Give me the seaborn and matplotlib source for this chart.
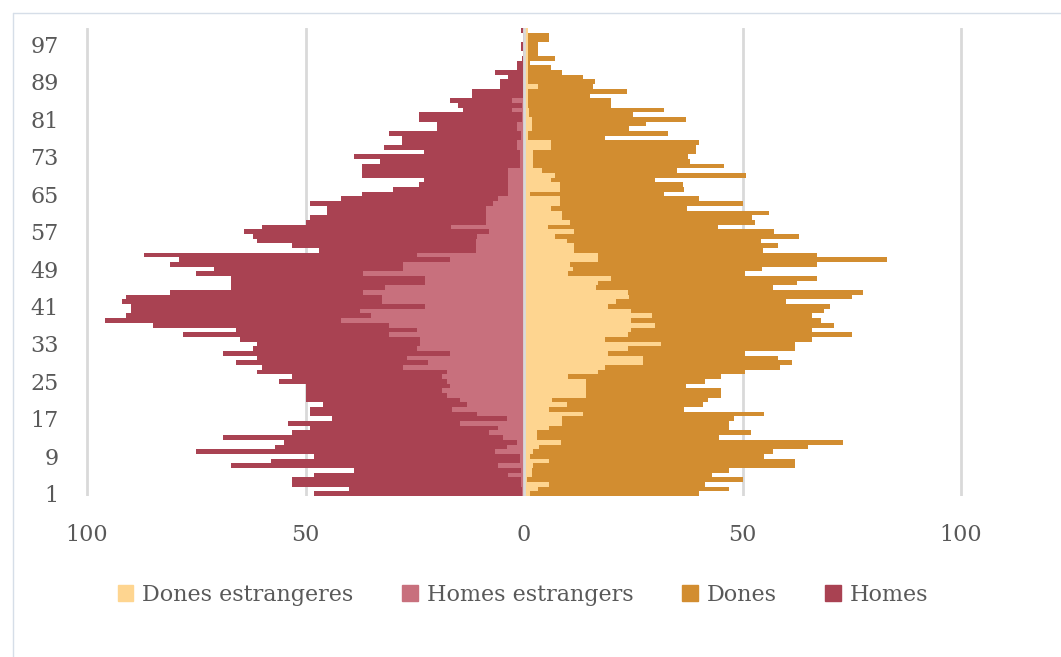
import matplotlib
matplotlib.use('Agg')
import matplotlib.pyplot as plt
import seaborn as sns
import numpy as np
from matplotlib.patches import Patch
from matplotlib.lines import Line2D

# === dades (edat 1..100) ===
ages = list(range(1, 101))

homes = [48, 40, 53, 53, 48, 39, 67, 58, 48, 75,
         57, 55, 69, 53, 49, 54, 44, 49, 49, 46,
         50, 50, 50, 50, 56, 53, 61, 60, 66, 61,
         69, 62, 61, 65, 78, 66, 85, 96, 91, 90,
         90, 92, 91, 81, 67, 67, 67, 75, 71, 81,
         79, 87, 47, 53, 61, 62, 64, 60, 50, 49,
         45, 45, 49, 42, 37, 30, 24, 23, 37, 37,
         37, 33, 39, 23, 32, 28, 28, 31, 20, 20,
         24, 24, 14, 15, 17, 12, 12, 5.5, 5.5, 3.7,
         6.6, 1.7, 1.7, 0.5, 0.3, 0.7, 0.7, 0.3, 0.2, 0.7]

homes_estr = [0.5, 0.5, 0.7, 0.7, 3.7, 0.7, 6, 1, 1, 6.6,
              4, 1.6, 4.8, 8, 6, 14.6, 3.9, 10.8, 16.5, 13.1,
              14.6, 17.7, 18.8, 17, 17.7, 18.8, 17.7, 27.7, 22, 26.8,
              17, 24.6, 23.8, 23.8, 31, 24.6, 31, 42, 35, 37.5,
              22.6, 32.6, 32.6, 36.8, 31.8, 22.6, 22.6, 36.8, 27.7, 27.7,
              17, 24.6, 11, 11, 11, 10.8, 8, 16.7, 8.7, 8.7,
              8.7, 8.7, 7, 6, 3.7, 3.7, 3.7, 3.7, 3.7, 3.7,
              1, 1, 1, 1, 1.7, 1.7, 0.8, 0.8, 1.5, 1.5,
              0.5, 0.5, 2.8, 0.5, 2.8, 0.3, 0.3, 0.3, 0.3, 0.3,
              0.3, 0.3, 0.3, 0.3, 0.3, 0.3, 0.3, 0.3, 0.3, 0.3]

dones = [40, 47, 41.5, 50, 43, 47, 62, 62, 55, 57,
         65, 73, 44.5, 52, 47, 47, 48, 55, 36.5, 41,
         42, 45, 45, 37, 41.5, 45, 50.5, 58.6, 61.4, 58,
         50.5, 62, 62, 66, 75, 66, 71, 68, 66, 68.7,
         70, 60, 75, 77.5, 57, 62.5, 67, 50.5, 54.5, 67,
         83, 67, 54.6, 58, 54.3, 63, 57.3, 44.4, 52.8, 52.2,
         56, 37.3, 50, 40, 32, 36.5, 36.4, 30, 50.8, 35,
         45.7, 38, 37.5, 39.4, 39.4, 40, 18.5, 33, 24, 28,
         37, 25, 32, 20, 20, 15, 23.6, 15.8, 16.3, 13.5,
         8.6, 6.2, 1.4, 7, 3.3, 3.3, 3.3, 5.6, 5.6, 1]

dones_estr = [1.4, 3.3, 5.6, 0.6, 1.8, 1.8, 2.1, 5.6, 1.4, 2.1,
              3.4, 8.4, 3, 3, 5.6, 8.6, 8.6, 13.5, 5.6, 9.8,
              6.3, 14.1, 14.1, 14.1, 14.1, 10, 17, 18.5, 27.2, 27.2,
              19.2, 23.8, 31.4, 18.5, 23.7, 24.4, 30, 24.4, 29.2, 24.4,
              19.2, 21.1, 24, 23.8, 16.5, 17, 20, 10, 11.3, 10.6,
              17, 17, 11.4, 11.4, 9.9, 7, 11.4, 5.4, 10.6, 8.6,
              8.6, 6.2, 8.2, 8.2, 1.4, 8.2, 8.2, 6.2, 7, 4,
              2.1, 2.1, 2.1, 2.1, 6.2, 6.2, 1, 1, 1.8, 1.8,
              1.8, 1.2, 1.2, 1, 1, 1, 1, 3.3, 1, 1,
              0.8, 0.8, 0.8, 0.8, 0.8, 0.8, 0.8, 0.8, 0.8, 0.8]

y_ticks = list(range(1, 101, 8))
x_ticks = [-100, -50, 0, 50, 100]

c_homes = '#A94252'
c_homes_estr = '#C8707D'
c_dones = '#D28D30'
c_dones_estr = '#FED590'
grey = '#595959'

sns.set_style('white')
plt.rcParams['font.family'] = ['DejaVu Serif']

fig = plt.figure(figsize=(10.61, 6.57), dpi=100)
ax = fig.add_axes([78.3 / 1061, 1 - 496 / 657, 891.5 / 1061, 468 / 657])

series = [
    (-np.array(homes), c_homes),
    (-np.array(homes_estr), c_homes_estr),
    (np.array(dones), c_dones),
    (np.array(dones_estr), c_dones_estr),
]
for vals, col in series:
    sns.barplot(x=vals, y=ages, orient='y', native_scale=True, color=col,
                saturation=1, width=1.0, linewidth=0, errorbar=None, ax=ax)

ax.set_xlim(-102, 102)
ax.set_ylim(0.5, 100.5)
ax.set_xticks(x_ticks)
ax.set_xticklabels([str(abs(t)) for t in x_ticks])
ax.set_yticks(y_ticks)
ax.set_yticklabels([str(t) for t in y_ticks])
ax.tick_params(axis='x', length=0, pad=20, labelsize=16, labelcolor=grey)
ax.tick_params(axis='y', length=0, pad=14, labelsize=16, labelcolor=grey)
ax.set_xlabel('')
ax.set_ylabel('')
for s in ax.spines.values():
    s.set_visible(False)
ax.set_axisbelow(True)
ax.grid(axis='x', color='#D9D9D9', linewidth=2)
ax.grid(axis='y', visible=False)
ax.axvline(0, color='#D9D9D9', linewidth=2, zorder=5)

handles = [Patch(color=c_dones_estr), Patch(color=c_homes_estr),
           Patch(color=c_dones), Patch(color=c_homes)]
labels = ['Dones estrangeres', 'Homes estrangers', 'Dones', 'Homes']
fig.legend(handles, labels, loc='center', bbox_to_anchor=(523 / 1061, 1 - 595 / 657),
           ncol=4, frameon=False, fontsize=16, labelcolor=grey,
           handlelength=0.7, handleheight=0.7, handletextpad=0.4, columnspacing=2.2)

# vora del gràfic
fig.add_artist(Line2D([13 / 1061, 1], [1 - 13 / 657] * 2, transform=fig.transFigure,
                      color='#D6DEE8', linewidth=1))
fig.add_artist(Line2D([13 / 1061] * 2, [0, 1 - 13 / 657], transform=fig.transFigure,
                      color='#D6DEE8', linewidth=1))

fig.savefig('out.png', dpi=100)
